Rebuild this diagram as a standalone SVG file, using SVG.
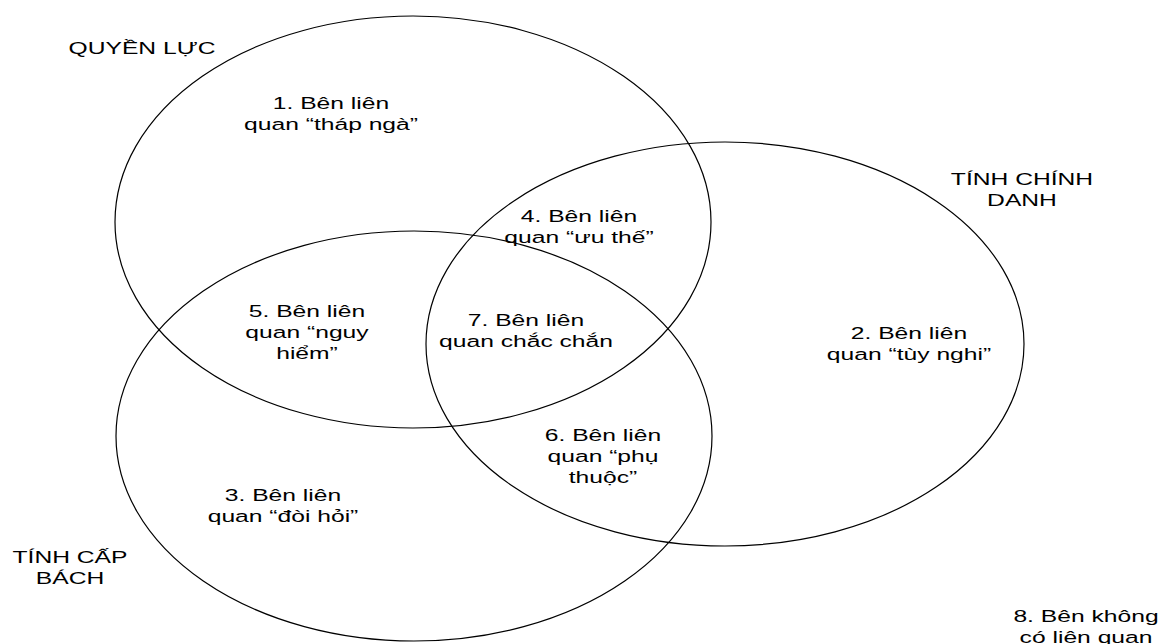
<svg xmlns="http://www.w3.org/2000/svg" width="1162" height="644" viewBox="0 0 1162 644">
<style>
.c{fill:none;stroke:#000;stroke-width:1.2}
.t{font-family:"Liberation Sans",Arial,sans-serif;font-size:17px;fill:#000;text-anchor:middle}
</style>
<rect width="1162" height="644" fill="#fff"/>
<g id="circles">
<ellipse id="c-quyenluc" class="c" cx="413" cy="222" rx="298" ry="206"/>
<ellipse id="c-chinhdanh" class="c" cx="725" cy="344" rx="299" ry="202"/>
<ellipse id="c-capbach" class="c" cx="414" cy="436" rx="298" ry="205"/>
</g>
<g id="connectors"></g>
<g id="label-quyenluc" transform="translate(142,0) scale(1.45,1)"><text class="t" x="0" y="54">QUYỀN LỰC</text></g>
<g id="label-chinhdanh" transform="translate(1022,0) scale(1.45,1)"><text class="t" y="185"><tspan x="0">TÍNH CHÍNH</tspan><tspan x="0" dy="21">DANH</tspan></text></g>
<g id="label-capbach" transform="translate(70,0) scale(1.45,1)"><text class="t" y="563"><tspan x="0">TÍNH CẤP</tspan><tspan x="0" dy="21">BÁCH</tspan></text></g>
<g id="n1" transform="translate(331,0) scale(1.45,1)"><text class="t" y="109"><tspan x="0">1. Bên liên</tspan><tspan x="0" dy="21">quan “tháp ngà”</tspan></text></g>
<g id="n4" transform="translate(579,0) scale(1.45,1)"><text class="t" y="222"><tspan x="0">4. Bên liên</tspan><tspan x="0" dy="21">quan “ưu thế”</tspan></text></g>
<g id="n5" transform="translate(307,0) scale(1.45,1)"><text class="t" y="317"><tspan x="0">5. Bên liên</tspan><tspan x="0" dy="21">quan “nguy</tspan><tspan x="0" dy="21">hiểm”</tspan></text></g>
<g id="n7" transform="translate(526,0) scale(1.45,1)"><text class="t" y="326"><tspan x="0">7. Bên liên</tspan><tspan x="0" dy="21">quan chắc chắn</tspan></text></g>
<g id="n2" transform="translate(909,0) scale(1.45,1)"><text class="t" y="339"><tspan x="0">2. Bên liên</tspan><tspan x="0" dy="21">quan “tùy nghi”</tspan></text></g>
<g id="n6" transform="translate(603,0) scale(1.45,1)"><text class="t" y="441"><tspan x="0">6. Bên liên</tspan><tspan x="0" dy="21">quan “phụ</tspan><tspan x="0" dy="21">thuộc”</tspan></text></g>
<g id="n3" transform="translate(283,0) scale(1.45,1)"><text class="t" y="501"><tspan x="0">3. Bên liên</tspan><tspan x="0" dy="21">quan “đòi hỏi”</tspan></text></g>
<g id="n8" transform="translate(1086,0) scale(1.45,1)"><text class="t" y="622"><tspan x="0">8. Bên không</tspan><tspan x="0" dy="21">có liên quan</tspan></text></g>
</svg>
